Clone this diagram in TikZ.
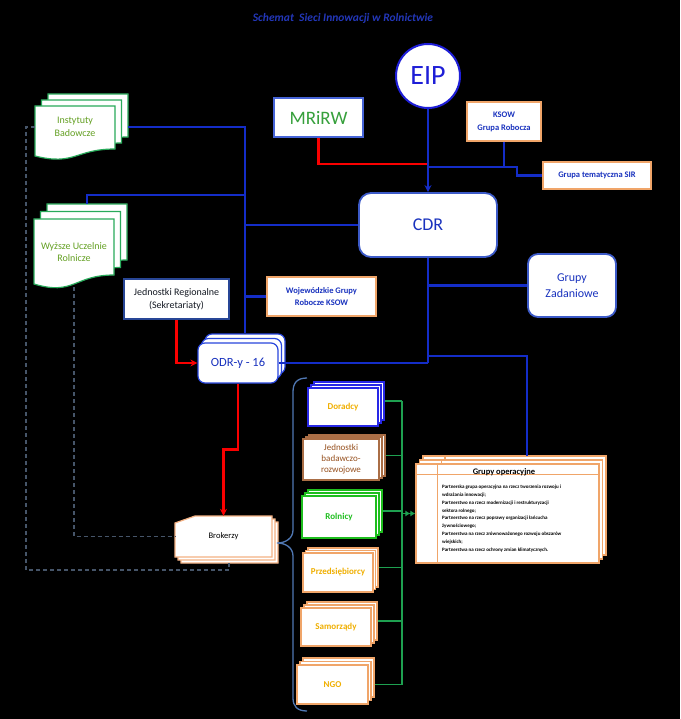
\documentclass[tikz,border=0pt]{standalone}
\usepackage{fontspec}
\setmainfont{Carlito}
\usetikzlibrary{shadows,arrows.meta}

\definecolor{titleblue}{RGB}{35,55,185}
\definecolor{eipblue}{RGB}{30,30,215}
\definecolor{lineblue}{RGB}{20,45,200}
\definecolor{textblue}{RGB}{25,50,190}
\definecolor{cdrblue}{RGB}{60,90,200}
\definecolor{mrblue}{RGB}{70,100,215}
\definecolor{mrgreen}{RGB}{55,160,60}
\definecolor{orangeb}{RGB}{240,165,105}
\definecolor{peach}{RGB}{244,177,131}
\definecolor{jrblue}{RGB}{40,70,150}
\definecolor{odrblue}{RGB}{40,70,220}
\definecolor{darktext}{RGB}{20,25,35}
\definecolor{redline}{RGB}{250,0,0}
\definecolor{grnline}{RGB}{30,160,80}
\definecolor{dashgray}{RGB}{70,85,105}
\definecolor{bracecol}{RGB}{80,120,180}
\definecolor{docgreen}{RGB}{40,170,90}
\definecolor{insttext}{RGB}{100,160,35}
\definecolor{goldt}{RGB}{240,175,0}
\definecolor{brownb}{RGB}{170,110,70}
\definecolor{brownt}{RGB}{150,80,30}
\definecolor{dorblue}{RGB}{40,40,230}
\definecolor{rolgreen}{RGB}{30,190,30}

\tikzset{
	box/.style={draw, fill=white, line width=1.2, inner sep=1, align=center},
	stack/.style n args={3}{general shadow={shadow xshift=2*#2, shadow yshift=2*#3, draw=#1, fill=white}, general shadow={shadow xshift=#2, shadow yshift=#3, draw=#1, fill=white}},
	bus/.style={draw=lineblue, line width=2.6},
	redl/.style={draw=redline, line width=2.4},
	grn/.style={draw=grnline, line width=1.5},
	dsh/.style={draw=dashgray, line width=1.2, dash pattern=on 4pt off 3pt},
	docb/.style={draw=docgreen, fill=white, line width=1.2},
	brokb/.style={draw=peach, fill=white, line width=1.2},
	opbox/.style={draw=orangeb, fill=white, line width=1.2},
	colbox/.style={box, font=\bfseries\fontsize{9}{11}\selectfont},
}

\begin{document}
\begin{tikzpicture}[x=1pt,y=-1pt]
	
	\useasboundingbox (0,0) rectangle (680,719);
	\fill[black] (0,0) rectangle (680,719);
	
	\node[text=titleblue, font=\bfseries\itshape\fontsize{11.5}{13}\selectfont] (title) at (343,18) {Schemat\ \ Sieci Innowacji w Rolnictwie};
	
	\node[circle, draw=eipblue, line width=2, fill=white, minimum size=64, inner sep=0, text=eipblue, font=\fontsize{28}{30}\selectfont] (eip) at (428,76) {EIP};
	\node[box, draw=mrblue, line width=2, minimum width=89, minimum height=39, text=mrgreen, font=\fontsize{19}{20}\selectfont] (mrirw) at (318.5,117.5) {MRiRW};
	\node[box, draw=orangeb, minimum width=74, minimum height=39, text=textblue, font=\bfseries\fontsize{8.5}{13}\selectfont] (ksow) at (504,121.5) {KSOW\\Grupa Robocza};
	\node[box, draw=orangeb, minimum width=108, minimum height=27, text=textblue, font=\bfseries\fontsize{8.5}{10}\selectfont] (sir) at (597,175.5) {Grupa tematyczna SIR};
	\node[box, rounded corners=12, draw=cdrblue, line width=1.8, minimum width=138, minimum height=64, text=textblue, font=\fontsize{18}{20}\selectfont] (cdr) at (428,225) {CDR};
	\node[box, rounded corners=10, draw=cdrblue, line width=1.8, minimum width=88, minimum height=63, text=textblue, font=\fontsize{12}{16}\selectfont] (gz) at (572,285.5) {Grupy\\Zadaniowe};
	\node[box, draw=orangeb, minimum width=109, minimum height=39, text=textblue, font=\bfseries\fontsize{8.5}{12}\selectfont] (woj) at (321.5,296.5) {Wojewódzkie Grupy\\Robocze KSOW};
	\node[box, draw=jrblue, line width=1.5, minimum width=105, minimum height=40, text=darktext, font=\fontsize{10}{13}\selectfont] (jr) at (176.5,299) {Jednostki Regionalne\\(Sekretariaty)};
	\node[box, rounded corners=7, draw=odrblue, stack={odrblue}{3.5pt}{4.5pt}, minimum width=80, minimum height=40, text=textblue, font=\fontsize{12.5}{14}\selectfont] (odr) at (238,363) {ODR-y - 16};
	
	\foreach \d in {2,1,0}
		\draw[docb, shift={(6.5*\d,-6*\d)}] (35,106) -- (115,106) -- (115,149) .. controls (75,149) and (75,166) .. (35,156) -- cycle;
	\node[text=insttext, align=center, font=\fontsize{10}{13}\selectfont] (inst) at (75,126.5) {Instytuty\\Badowcze};
	\foreach \d in {2,1,0}
		\draw[docb, shift={(6.5*\d,-7.5*\d)}] (34,219) -- (114,219) -- (114,275) .. controls (74,275) and (74,296) .. (34,284) -- cycle;
	\node[text=insttext, align=center, font=\fontsize{10}{12}\selectfont] (wyz) at (74,252) {Wyższe Uczelnie\\Rolnicze};
	
	\node[colbox, draw=dorblue, stack={dorblue}{3pt}{3pt}, minimum width=70, minimum height=38, text=goldt] (dor) at (343,407) {Doradcy};
	\node[box, draw=brownb, stack={brownb}{3pt}{2pt}, minimum width=76, minimum height=41, text=brownt, font=\fontsize{9}{11}\selectfont] (jbr) at (341,459.5) {Jednostki\\badawczo-\\rozwojowe};
	\node[colbox, draw=rolgreen, stack={rolgreen}{3pt}{3pt}, minimum width=74, minimum height=42, text=rolgreen] (rol) at (339,517) {Rolnicy};
	\node[colbox, draw=orangeb, stack={orangeb}{2.5pt}{2.5pt}, minimum width=70, minimum height=39, text=goldt] (prz) at (338,572.5) {Przedsiębiorcy};
	\node[colbox, draw=orangeb, stack={orangeb}{3pt}{3pt}, minimum width=70, minimum height=38, text=goldt] (sam) at (336,627) {Samorządy};
	\node[colbox, draw=orangeb, stack={orangeb}{3pt}{3.5pt}, minimum width=71, minimum height=39, text=goldt] (ngo) at (332.5,684.5) {NGO};
	
	\foreach \d in {2,1}
		\draw[opbox] (416+3.5*\d,464-4*\d) rectangle ++(183,99) (438+3.5*\d,464-4*\d) -- ++(0,11);
	\node[opbox, minimum width=183, minimum height=99, inner sep=0] (gop) at (507.5,513.5) {};
	\draw[opbox] ([xshift=22]gop.north west) -- ([xshift=22]gop.south west);
	\draw[opbox] ([yshift=-11]gop.north west) -- ([yshift=-11]gop.north east);
	\node[anchor=base, font=\bfseries\fontsize{8.5}{10}\selectfont] (goph) at (504,474) {Grupy operacyjne};
	\node[anchor=north west, align=left, inner sep=0, font=\bfseries\fontsize{5}{7.8}\selectfont] (gopt) at (442,485) {Partnerska grupa operacyjna na rzecz tworzenia rozwoju i\\wdrażania innowacji;\\Partnerstwo na rzecz modernizacji i restrukturyzacji\\sektora rolnego;\\Partnerstwo na rzecz poprawy organizacji łańcucha\\żywnościowego;\\Partnerstwa na rzecz zrównoważonego rozwoju obszarów\\wiejskich;\\Partnerstwa na rzecz ochrony zmian klimatycznych.};
	
	\foreach \d in {2,1,0}
		\draw[brokb, shift={(3*\d,3*\d)}] (175,523) -- (195,516) -- (272,516) -- (272,557) -- (175,557) -- cycle;
	\node[text=black, minimum width=97, minimum height=41, font=\fontsize{8.5}{10}\selectfont] (brok) at (223.5,536.5) {Brokerzy};
	
	\coordinate (instE) at (128,127);
	\coordinate (instW) at (35,127);
	\coordinate (wyzN) at (87,204);
	\coordinate (wyzS) at (74,287);
	\coordinate (busT) at (245,127);
	\coordinate (jW) at (245,195);
	\coordinate (odrN) at ([yshift=9]odr.north);
	\coordinate (jM) at (428,164);
	\coordinate (jK) at (428,167);
	\coordinate (jOp) at (428,356);
	\coordinate (gopN) at (527,456);
	\coordinate (trk) at (402,401);
	\coordinate (brokS) at (229,563);
	
	\draw[bus] (instE) -- (busT) -- (busT |- odrN);
	\draw[bus] (wyzN) |- (jW);
	\draw[bus] (cdr.west) -- (cdr.west -| busT);
	\draw[bus] (woj.west) -- (woj.west -| busT);
	
	\draw[redl] (mrirw.south) |- (jM);
	\draw[bus] (ksow.south) -- (ksow.south |- jK);
	\draw[bus] (jK) -- ++(89,0) |- (sir.west);
	\draw[bus, -{Stealth[length=7pt,width=7pt]}] (eip.south) -- (cdr.north);
	
	\draw[bus] (cdr.south) -- (cdr.south |- odr.east);
	\draw[bus] (odr.east) -- (cdr.south |- odr.east);
	\draw[bus] (gz.west) -- (gz.west -| cdr.south);
	\draw[bus] (jOp) -| (gopN);
	
	\draw[redl, -{Stealth[length=7pt,width=7pt]}] (jr.south) |- (odr.west);
	\draw[redl, -{Stealth[length=7pt,width=7pt]}] (odr.south) -- ++(0,66) -| (brok.north);
	
	\draw[grn] (trk) -- (trk |- ngo.east);
	\draw[grn] ([shift={(6,-6)}]dor.east) -- (trk);
	\draw[grn] ([shift={(6,-4)}]jbr.east) coordinate (g2) -- (g2 -| trk);
	\draw[grn] ([shift={(6,-6)}]rol.east) coordinate (g3) -- (g3 -| trk);
	\draw[grn] ([shift={(5,-5)}]prz.east) coordinate (g4) -- (g4 -| trk);
	\draw[grn] ([shift={(6,-6)}]sam.east) coordinate (g5) -- (g5 -| trk);
	\draw[grn] ([shift={(6,0)}]ngo.east) -- (trk |- ngo.east);
	\draw[grn, -{Latex[length=5pt,width=6pt]Latex[length=5pt,width=6pt]}] (trk |- gop.west) -- (gop.west);
	
	\draw[draw=bracecol, line width=1.3] (307,378) .. controls (297,378) and (293,383) .. (293,392) -- (293,530) .. controls (293,538) and (286,543) .. (277,543) .. controls (286,543) and (293,548) .. (293,556) -- (293,698) .. controls (293,706) and (297,711) .. (307,711);
	
	\draw[dsh] (wyzS) |- (brok.west);
	\draw[dsh] (instW) -- ++(-9,0) |- ([yshift=-7]brokS) -- (brokS);
	
\end{tikzpicture}
\end{document}
